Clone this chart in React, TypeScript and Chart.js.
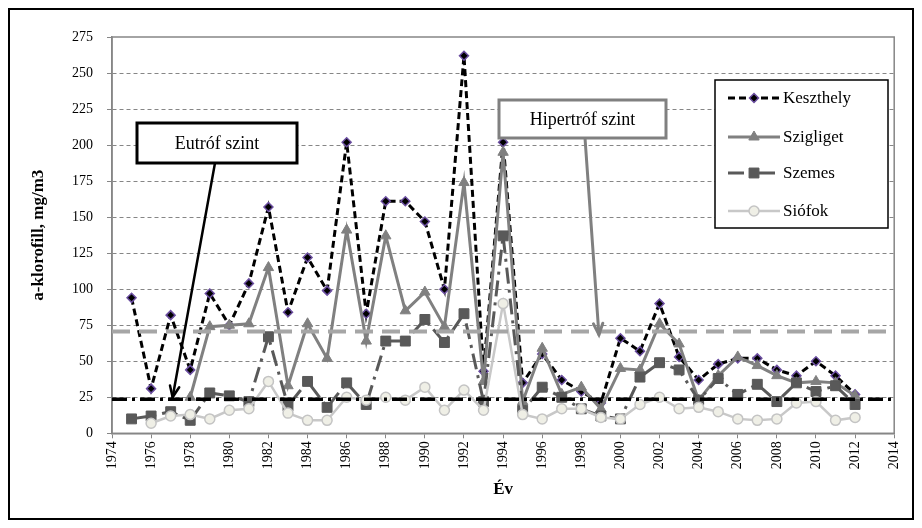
import React, { useEffect, useRef } from "react";
import { Chart, registerables } from "chart.js";
Chart.register(...registerables);

// ---- data ----
const years = [1975, 1976, 1977, 1978, 1979, 1980, 1981, 1982, 1983, 1984, 1985, 1986, 1987, 1988, 1989, 1990, 1991, 1992, 1993, 1994, 1995, 1996, 1997, 1998, 1999, 2000, 2001, 2002, 2003, 2004, 2005, 2006, 2007, 2008, 2009, 2010, 2011, 2012];
const keszthely = [94, 31, 82, 44, 97, 75, 104, 157, 84, 122, 99, 202, 83, 161, 161, 147, 100, 262, 43, 202, 35, 55, 37, 29, 21, 66, 57, 90, 53, 37, 48, 52, 52, 44, 40, 50, 40, 27];
const szigliget = [null, null, null, 25, 74, 75, 76, 115, 33, 76, 52, 141, 64, 137, 85, 98, 74, 174, 36, 195, 22, 59, 27, 32, 17, 45, 44, 76, 62, 23, 40, 53, 47, 40, 35, 36, 35, 26];
const szemes = [10, 12, 15, 9, 28, 26, 22, 67, 19, 36, 18, 35, 20, 64, 64, 79, 63, 83, 22, 137, 16, 32, 25, 17, 12, 10, 39, 49, 44, 23, 38, 27, 34, 22, 35, 29, 33, 20];
const siofok = [null, 7, 12, 13, 10, 16, 17, 36, 14, 9, 9, 25, 23, 25, 23, 32, 16, 30, 16, 90, 13, 10, 17, 17, 11, 10, 20, 25, 17, 18, 15, 10, 9, 10, 21, 22, 9, 11];
const seriesNames = ["Keszthely", "Szigliget", "Szemes", "Siófok"];
const eutrofLevel = 23.6;
const hipertrofLevel = 70.6;
const eutrofLabel = "Eutróf szint";
const hipertrofLabel = "Hipertróf szint";
const eutrofArrowYear = 1977.1;
const hipertrofArrowYear = 1998.9;
const xMin = 1974, xMax = 2014, xStep = 2;
const yMin = 0, yMax = 275, yStep = 25;
const yTitle = "a-klorofill, mg/m3";
const xTitle = "Év";

const SERIF = "'Liberation Serif', 'Times New Roman', serif";

const styles = [
  { color: "#000000", width: 3, dash: [7, 4], point: "rectRot", radius: 4.5, fill: "#000000", stroke: "#6b4ea0", pbw: 1.5 },
  { color: "#808080", width: 3, dash: [], point: "triangle", radius: 6, fill: "#808080", stroke: "#808080", pbw: 1 },
  { color: "#595959", width: 3, dash: [16, 6, 3, 6], point: "rect", radius: 7, fill: "#595959", stroke: "#595959", pbw: 1 },
  { color: "#c8c8c8", width: 2.5, dash: [], point: "circle", radius: 5, fill: "#efefe6", stroke: "#c4c4c4", pbw: 1.5 },
];

const allSeries = [keszthely, szigliget, szemes, siofok];

function drawArrow(ctx: CanvasRenderingContext2D, x1: number, y1: number, x2: number, y2: number, color: string, w: number) {
  ctx.save();
  ctx.strokeStyle = color;
  ctx.lineWidth = w;
  ctx.setLineDash([]);
  ctx.lineCap = "round";
  ctx.beginPath();
  ctx.moveTo(x1, y1);
  ctx.lineTo(x2, y2);
  ctx.stroke();
  const ang = Math.atan2(y2 - y1, x2 - x1);
  const L = 12, spread = 0.4;
  ctx.beginPath();
  ctx.moveTo(x2 - L * Math.cos(ang - spread), y2 - L * Math.sin(ang - spread));
  ctx.lineTo(x2, y2);
  ctx.lineTo(x2 - L * Math.cos(ang + spread), y2 - L * Math.sin(ang + spread));
  ctx.stroke();
  ctx.restore();
}

function drawBox(ctx: CanvasRenderingContext2D, x: number, y: number, w: number, h: number, text: string, color: string) {
  ctx.save();
  ctx.setLineDash([]);
  ctx.fillStyle = "#ffffff";
  ctx.fillRect(x, y, w, h);
  ctx.strokeStyle = color;
  ctx.lineWidth = 3;
  ctx.strokeRect(x, y, w, h);
  ctx.fillStyle = "#000000";
  ctx.font = `18px ${SERIF}`;
  ctx.textAlign = "center";
  ctx.textBaseline = "middle";
  ctx.fillText(text, x + w / 2, y + h / 2 + 1);
  ctx.restore();
}

function drawMarker(ctx: CanvasRenderingContext2D, style: string, r: number, x: number, y: number) {
  ctx.beginPath();
  if (style === "circle") {
    ctx.arc(x, y, r, 0, Math.PI * 2);
  } else if (style === "rect") {
    const s = Math.SQRT1_2 * r;
    ctx.rect(x - s, y - s, 2 * s, 2 * s);
  } else if (style === "rectRot") {
    ctx.moveTo(x, y - r);
    ctx.lineTo(x + r, y);
    ctx.lineTo(x, y + r);
    ctx.lineTo(x - r, y);
    ctx.closePath();
  } else if (style === "triangle") {
    ctx.moveTo(x, y - r);
    ctx.lineTo(x + r * 0.866, y + r * 0.5);
    ctx.lineTo(x - r * 0.866, y + r * 0.5);
    ctx.closePath();
  }
}

const overlayPlugin = {
  id: "overlay",
  beforeDatasetsDraw(chart: any) {
    const { ctx, chartArea: a } = chart;
    ctx.save();
    ctx.strokeStyle = "#868686";
    ctx.lineWidth = 1.5;
    ctx.setLineDash([]);
    ctx.strokeRect(a.left, a.top, a.right - a.left, a.bottom - a.top);
    ctx.restore();
  },
  afterDraw(chart: any) {
    const ctx: CanvasRenderingContext2D = chart.ctx;
    const xs = chart.scales.x, ys = chart.scales.y;
    ctx.save();
    ctx.setLineDash([]);
    ctx.strokeStyle = "#000";
    ctx.lineWidth = 2;
    ctx.strokeRect(1, 1, chart.width - 2, chart.height - 2);
    ctx.restore();

    // callouts
    drawArrow(ctx, 207, 155, xs.getPixelForValue(eutrofArrowYear), ys.getPixelForValue(eutrofLevel) - 2, "#000000", 2.5);
    drawBox(ctx, 129, 115, 160, 40, eutrofLabel, "#000000");
    drawArrow(ctx, 577, 130, xs.getPixelForValue(hipertrofArrowYear), ys.getPixelForValue(hipertrofLevel) + 3, "#808080", 3);
    drawBox(ctx, 491, 92, 167, 38, hipertrofLabel, "#808080");

    // legend
    const lx = 707, ly = 72, lw = 173, lh = 148;
    ctx.save();
    ctx.fillStyle = "#fff";
    ctx.fillRect(lx, ly, lw, lh);
    ctx.strokeStyle = "#000";
    ctx.lineWidth = 1.5;
    ctx.strokeRect(lx, ly, lw, lh);
    const rowY = [90, 129, 165, 203];
    seriesNames.forEach((name, i) => {
      const st = styles[i];
      const y = rowY[i];
      ctx.save();
      ctx.strokeStyle = st.color;
      ctx.lineWidth = st.width;
      ctx.setLineDash(st.dash);
      ctx.beginPath();
      ctx.moveTo(720, y);
      ctx.lineTo(772, y);
      ctx.stroke();
      ctx.setLineDash([]);
      ctx.fillStyle = st.fill;
      ctx.strokeStyle = st.stroke;
      ctx.lineWidth = st.pbw;
      drawMarker(ctx, st.point, st.radius, 746, y);
      ctx.fill();
      ctx.stroke();
      ctx.restore();
      ctx.fillStyle = "#000";
      ctx.font = `17px ${SERIF}`;
      ctx.textAlign = "left";
      ctx.textBaseline = "middle";
      ctx.fillText(name, 775, y + 1);
    });
    ctx.restore();
  },
};

export default function App() {
  const ref = useRef<HTMLCanvasElement | null>(null);
  useEffect(() => {
    if (!ref.current) return;
    const seriesSets = allSeries.map((vals, i) => {
      const st = styles[i];
      return {
        label: seriesNames[i],
        data: years.map((x, k) => ({ x, y: vals[k] })),
        borderColor: st.color,
        borderWidth: st.width,
        borderDash: st.dash,
        pointStyle: st.point,
        pointRadius: st.radius,
        pointBackgroundColor: st.fill,
        pointBorderColor: st.stroke,
        pointBorderWidth: st.pbw,
        tension: 0,
        spanGaps: false,
        order: 4 - i,
      };
    });
    const thresholdSets = [
      {
        label: eutrofLabel,
        data: [{ x: xMin, y: eutrofLevel }, { x: xMax, y: eutrofLevel }],
        borderColor: "#000000",
        borderWidth: 3.5,
        borderDash: [15, 5, 3, 5],
        pointRadius: 0,
        order: 0,
      },
      {
        label: hipertrofLabel,
        data: [{ x: xMin, y: hipertrofLevel }, { x: xMax, y: hipertrofLevel }],
        borderColor: "#a6a6a6",
        borderWidth: 4,
        borderDash: [18, 9],
        pointRadius: 0,
        order: 0,
      },
    ];
    const chart = new Chart(ref.current, {
      type: "line",
      data: { datasets: [...thresholdSets, ...seriesSets] as any },
      options: {
        responsive: false,
        animation: false,
        maintainAspectRatio: false,
        layout: { padding: { left: 0, top: 29, right: 15, bottom: 0 } },
        plugins: { legend: { display: false }, tooltip: { enabled: false } },
        scales: {
          x: {
            type: "linear",
            min: xMin,
            max: xMax,
            ticks: {
              stepSize: xStep,
              callback: (v: any) => String(v),
              maxRotation: 90,
              minRotation: 90,
              font: { family: SERIF, size: 14 },
              color: "#000",
              padding: 3,
            },
            grid: { drawOnChartArea: false, drawTicks: true, tickLength: 5, tickColor: "#868686", color: "#868686" },
            border: { display: true, color: "#868686", width: 1.5 },
            title: { display: true, text: xTitle, font: { family: SERIF, size: 17, weight: "bold" }, color: "#000", padding: { top: 0, bottom: 20 } },
            afterFit: (s: any) => { s.height = 86.7; },
          },
          y: {
            min: yMin,
            max: yMax,
            ticks: { stepSize: yStep, font: { family: SERIF, size: 14 }, color: "#000", padding: 14 },
            grid: {
              color: (c: any) => (c.tick && (c.tick.value === yMin || c.tick.value === yMax) ? "rgba(0,0,0,0)" : "#868686"),
              lineWidth: 1,
              tickColor: "#868686",
              tickLength: 5,
              tickBorderDash: [],
            },
            border: { display: true, color: "#868686", width: 1.5, dash: [4, 3] },
            title: { display: true, text: yTitle, font: { family: SERIF, size: 17, weight: "bold" }, color: "#000", padding: { top: 20, bottom: 0 } },
            afterFit: (s: any) => { s.width = 104; },
          },
        },
      } as any,
      plugins: [overlayPlugin],
    });
    return () => chart.destroy();
  }, []);
  return <canvas ref={ref} width={906} height={512} style={{ display: "block", width: 906, height: 512 }} />;
}
